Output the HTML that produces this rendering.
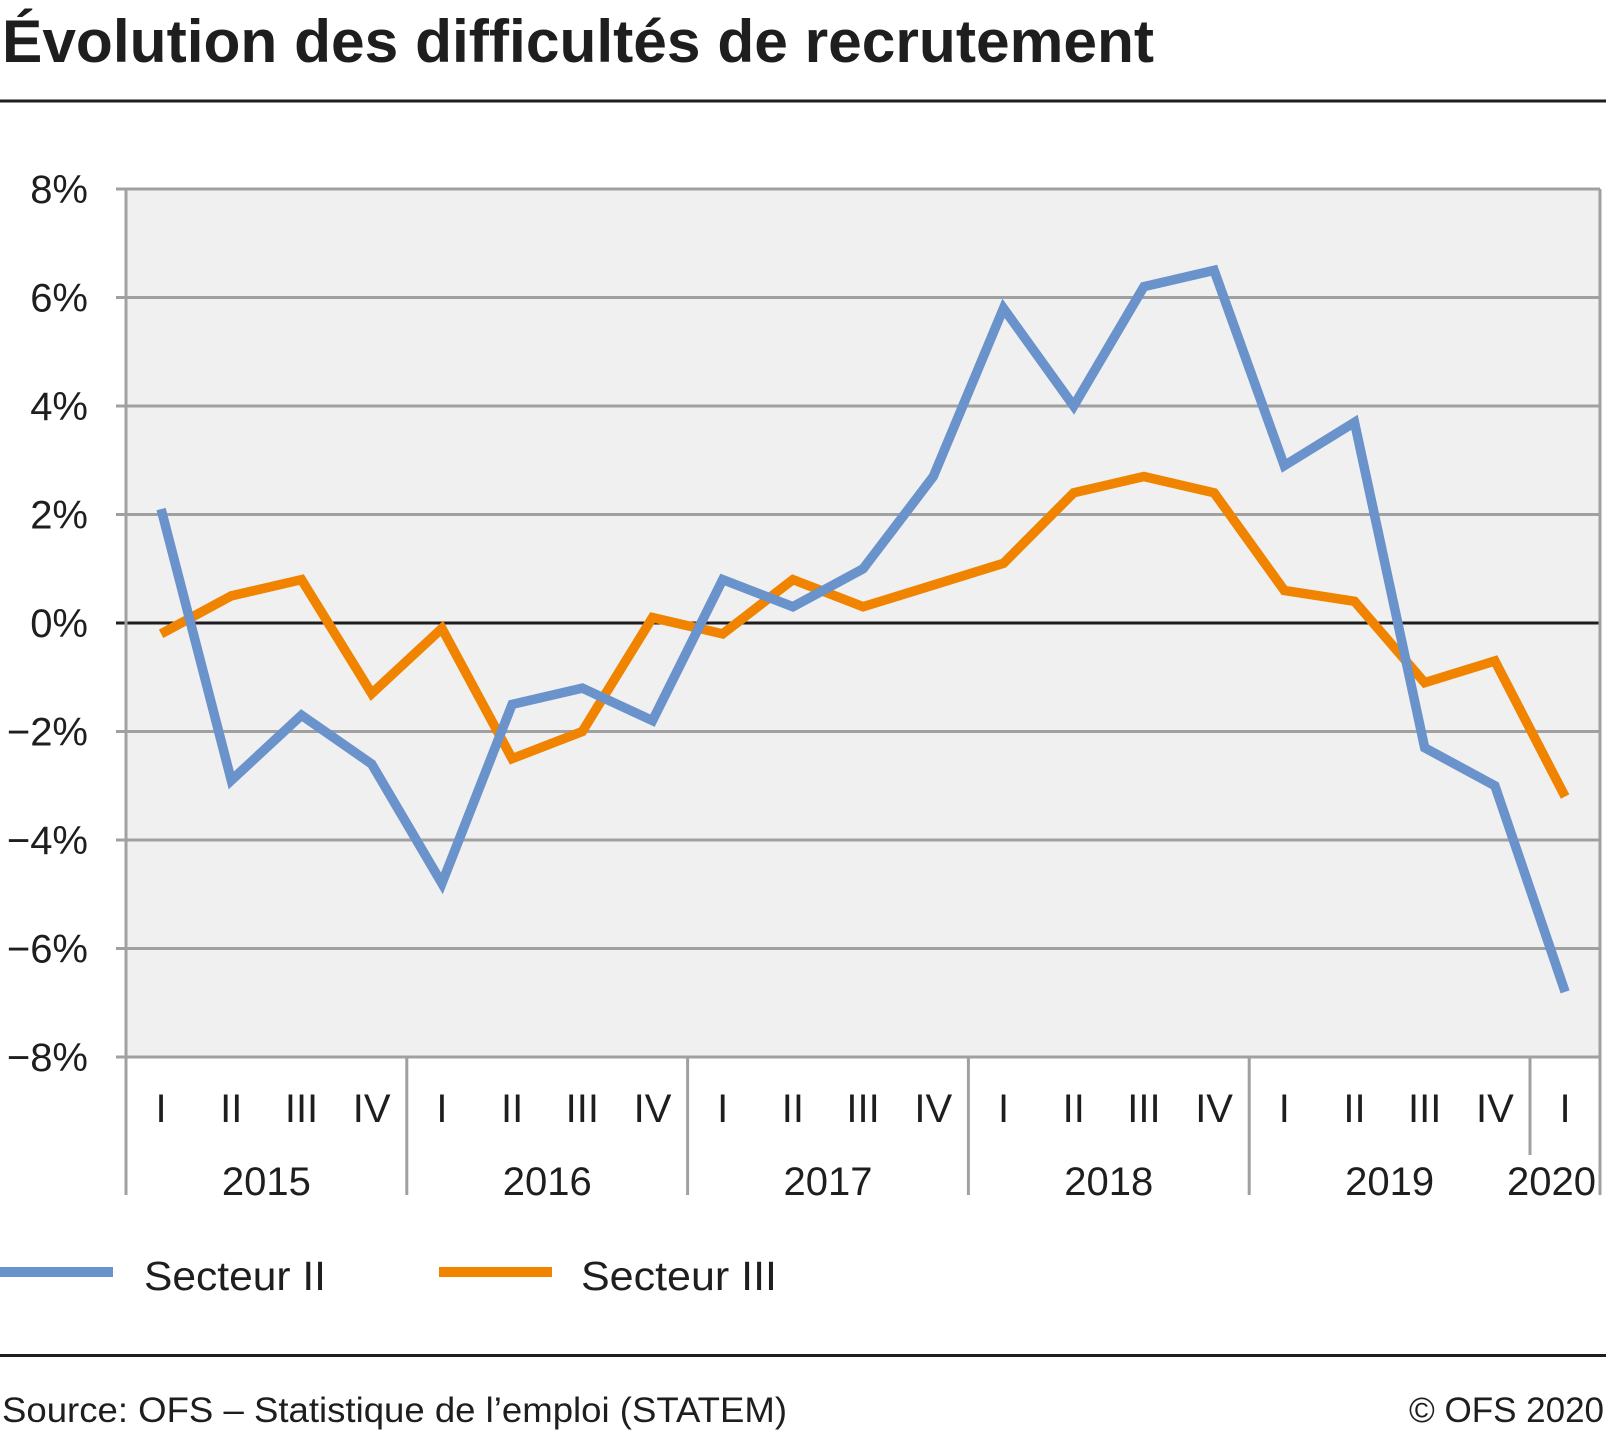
<!DOCTYPE html>
<html><head><meta charset="utf-8"><style>
html,body{margin:0;padding:0;background:#fff;}
svg{display:block;font-family:"Liberation Sans",sans-serif;}
</style></head><body>
<svg width="1609" height="1432" viewBox="0 0 1609 1432">
<text x="2" y="62" font-size="60" font-weight="bold" fill="#1e1e1e" textLength="1152" lengthAdjust="spacingAndGlyphs">Évolution des difficultés de recrutement</text>
<rect x="0" y="99.5" width="1606" height="3" fill="#1e1e1e"/>
<rect x="126" y="189" width="1474" height="868" fill="#f0f0f0"/>
<g id="grid"></g>
<g id="xaxis"></g>
<g id="series"></g>
<g>
<rect x="0" y="1267" width="113" height="10" fill="#6a93cc"/>
<text x="144" y="1290" font-size="41" fill="#1e1e1e" textLength="182" lengthAdjust="spacingAndGlyphs">Secteur II</text>
<rect x="439" y="1267" width="113" height="10" fill="#f08400"/>
<text x="581" y="1290" font-size="41" fill="#1e1e1e" textLength="196" lengthAdjust="spacingAndGlyphs">Secteur III</text>
</g>
<rect x="0" y="1354" width="1606" height="3" fill="#1e1e1e"/>
<text x="2" y="1422" font-size="35" fill="#1e1e1e" textLength="785" lengthAdjust="spacingAndGlyphs">Source: OFS – Statistique de l’emploi (STATEM)</text>
<text x="1604" y="1422" font-size="35" fill="#1e1e1e" text-anchor="end">© OFS 2020</text>
</svg>
<script>
const quarters=["I","II","III","IV","I","II","III","IV","I","II","III","IV","I","II","III","IV","I","II","III","IV","I"];
const years=["2015","2016","2017","2018","2019","2020"];
const yTicks=[8,6,4,2,0,-2,-4,-6,-8];
const yTickLabels=["8%","6%","4%","2%","0%","−2%","−4%","−6%","−8%"];
const secteurII=[2.1,-2.9,-1.7,-2.6,-4.8,-1.5,-1.2,-1.8,0.8,0.3,1.0,2.7,5.8,4.0,6.2,6.5,2.9,3.7,-2.3,-3.0,-6.8];
const secteurIII=[-0.2,0.5,0.8,-1.3,-0.1,-2.5,-2.0,0.1,-0.2,0.8,0.3,0.7,1.1,2.4,2.7,2.4,0.6,0.4,-1.1,-0.7,-3.2];

const NS="http://www.w3.org/2000/svg";
const L=126,R=1600,T=189,B=1057,qw=70.2;
const y=v=>T+(8-v)/16*(B-T);
const x=i=>L+qw*(i+0.5);
function mk(tag,attrs,parent){const e=document.createElementNS(NS,tag);for(const k in attrs)e.setAttribute(k,attrs[k]);parent.appendChild(e);return e;}
const grid=document.getElementById('grid');
yTicks.forEach((v,i)=>{
  const ln=mk('line',{x1:116,x2:R,y1:y(v),y2:y(v),stroke:v===0?'#1e1e1e':'#a0a0a0','stroke-width':3},grid);
  
  
  const t=mk('text',{x:88,y:y(v)+14,'font-size':40,fill:'#1e1e1e','text-anchor':'end'},grid);
  t.textContent=yTickLabels[i];
  
  
});
const la=mk('line',{x1:L,x2:L,y1:T,y2:1195,stroke:'#a0a0a0','stroke-width':3},grid);


const ra=mk('line',{x1:R,x2:R,y1:T,y2:1195,stroke:'#a0a0a0','stroke-width':3},grid);


const xa=document.getElementById('xaxis');
quarters.forEach((q,i)=>{
  const t=mk('text',{x:x(i),y:1122,'font-size':40,fill:'#1e1e1e','text-anchor':'middle'},xa);
  t.textContent=q;
  
  
});
years.forEach((yr,j)=>{
  const n=Math.min(4,quarters.length-4*j);
  const x0=L+qw*4*j, x1=x0+qw*n;
  if(j>0){
    const s=mk('line',{x1:x0,x2:x0,y1:B,y2:j===5?1155:1195,stroke:'#a0a0a0','stroke-width':3},xa);
    
    
  }
  const t=mk('text',{x:j===5?1596:(x0+x1)/2,y:1195,'font-size':40,fill:'#1e1e1e','text-anchor':j===5?'end':'middle'},xa);
  t.textContent=yr;
  
  
});
const sg=document.getElementById('series');
[[secteurIII,'#f08400','line-secteur-iii'],[secteurII,'#6a93cc','line-secteur-ii']].forEach(([d,c,n])=>{
  const p=mk('polyline',{points:d.map((v,i)=>x(i)+','+y(v)).join(' '),fill:'none',stroke:c,'stroke-width':9.5,'stroke-linejoin':'miter'},sg);
  
  
});
</script>
</body></html>
